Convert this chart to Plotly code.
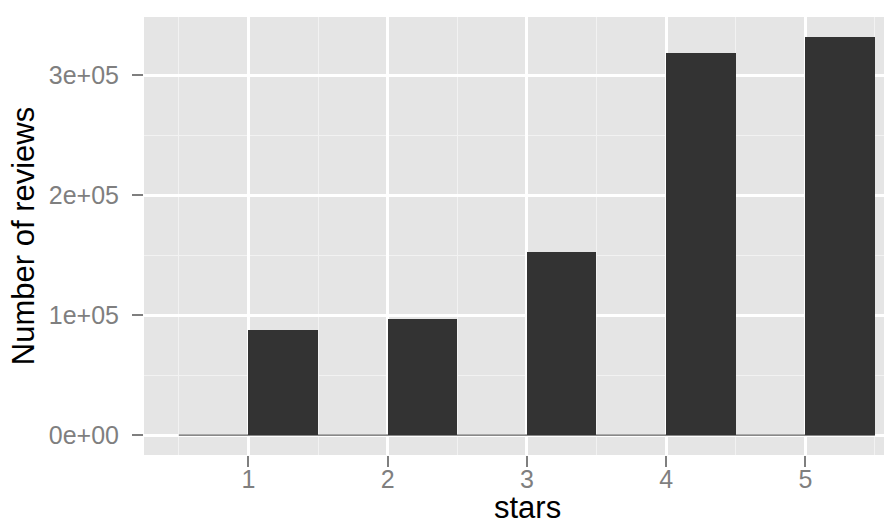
import plotly.graph_objects as go

# Data (binwidth 0.5)
stars = [1, 2, 3, 4, 5]
reviews = [87200, 96900, 152800, 318600, 331900]
bin_width = 0.5
y_ticks = [0, 100000, 200000, 300000]
x_ticks = [1, 2, 3, 4, 5]
x_title = "stars"
y_title = "Number of reviews"

bar_centers = [s + bin_width / 2 for s in stars]
edge_lo = min(stars) - bin_width
edge_hi = max(stars) + bin_width

fig = go.Figure()
# zero-count bins drawn as a thin baseline
fig.add_trace(go.Scatter(x=[edge_lo, edge_hi], y=[0, 0], mode="lines",
                         line=dict(color="#333333", width=1), hoverinfo="skip",
                         showlegend=False))
fig.add_trace(go.Bar(x=bar_centers, y=reviews, width=bin_width,
                     marker=dict(color="#333333", line=dict(width=0)),
                     showlegend=False))

ymax = max(reviews)
fig.update_layout(
    width=892, height=519,
    margin=dict(l=136, r=0, t=9, b=72),
    paper_bgcolor="white", plot_bgcolor="#E5E5E5",
    font=dict(family="Liberation Sans, Arial, sans-serif"),
    bargap=0,
    annotations=[
        dict(text=x_title, xref="paper", yref="paper", x=0.507, y=-0.1193,
             xanchor="center", yanchor="middle", showarrow=False,
             font=dict(size=31, color="black")),
        dict(text=y_title, xref="paper", yref="paper", x=-0.1598, y=0.5,
             xanchor="center", yanchor="middle", textangle=-90, showarrow=False,
             font=dict(size=31, color="black")),
    ],
)
fig.update_xaxes(
    automargin=False,
    range=[edge_lo - 0.05 * (edge_hi - edge_lo), 5.68],
    tickvals=x_ticks, ticktext=[str(v) for v in x_ticks],
    ticks="outside", ticklen=11, tickwidth=2, tickcolor="#7F7F7F",
    tickfont=dict(size=25, color="#7F7F7F"), ticklabelstandoff=-9,
    showgrid=True, gridcolor="white", gridwidth=2.5,
    minor=dict(tickvals=[s - 0.5 for s in stars] + [edge_hi], showgrid=True,
               gridcolor="#F2F2F2", gridwidth=1.2, ticks=""),
    zeroline=False, showline=False,
)
fig.update_yaxes(
    automargin=False,
    range=[-0.05 * ymax, 1.05 * ymax],
    tickvals=y_ticks, ticktext=[format(v, ".0e") for v in y_ticks],
    ticks="outside", ticklen=11, tickwidth=2, tickcolor="#7F7F7F",
    tickfont=dict(size=25, color="#7F7F7F"), ticklabelstandoff=8,
    showgrid=True, gridcolor="white", gridwidth=2.5,
    minor=dict(tickvals=[50000, 150000, 250000], showgrid=True,
               gridcolor="#F2F2F2", gridwidth=1.2, ticks=""),
    zeroline=False, showline=False,
)

fig.write_html("out.html")
